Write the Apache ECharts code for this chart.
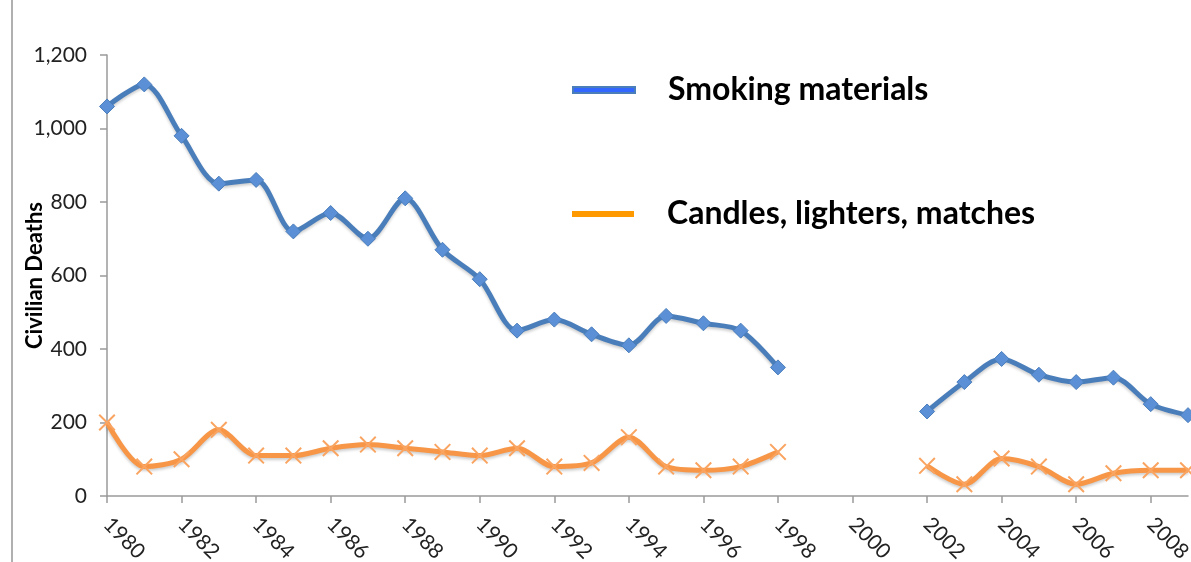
<!DOCTYPE html>
<html>
<head>
<meta charset="utf-8">
<script src="https://cdn.jsdelivr.net/npm/echarts@6/dist/echarts.min.js"></script>
<style>
html,body{margin:0;padding:0;background:#fff;}
#chart{width:1191px;height:562px;}
</style>
</head>
<body>
<div id="chart"></div>
<script>
const years = ['1980','1981','1982','1983','1984','1985','1986','1987','1988','1989',
  '1990','1991','1992','1993','1994','1995','1996','1997','1998','1999',
  '2000','2001','2002','2003','2004','2005','2006','2007','2008','2009'];
const smoking = [1060,1120,980,850,860,720,770,700,810,670,
  590,450,480,440,410,490,470,450,350,null,
  null,null,230,310,373,330,310,322,250,220];
const candles = [200,80,100,180,110,110,130,140,130,120,
  110,130,80,90,160,80,70,80,120,null,
  null,null,82,32,102,80,32,62,70,70];
const yTicks = [0,200,400,600,800,1000,1200];
const seriesNames = ['Smoking materials','Candles, lighters, matches'];

const font = 'Lato';
const chart = echarts.init(document.getElementById('chart'));
const xPath = 'path://M1,0 L6,5 L11,0 L12,1 L7,6 L12,11 L11,12 L6,7 L1,12 L0,11 L5,6 L0,1 Z';

chart.setOption({
  animation:false,
  backgroundColor:'#ffffff',
  graphic:[{
    type:'line', shape:{x1:12,y1:0,x2:12,y2:562},
    style:{stroke:'#b0b0b0', lineWidth:2}
  }],
  legend:[{
    left:567, top:69, icon:'rect', itemWidth:62, itemHeight:6,
    data:[{name:seriesNames[0], itemStyle:{color:'#3366ff'}}],
    textStyle:{fontFamily:font, fontWeight:'bold', fontSize:32, color:'#000', padding:[0,0,14,28]}
  },{
    left:567, top:193, icon:'rect', itemWidth:62, itemHeight:6,
    data:[{name:seriesNames[1], itemStyle:{color:'#ff9900'}}],
    textStyle:{fontFamily:font, fontWeight:'bold', fontSize:32, color:'#000', padding:[0,0,14,28]}
  }],
  grid:{left:107, right:3, top:55, bottom:66, containLabel:false, outerBoundsMode:'none'},
  xAxis:{
    type:'category', data:years, boundaryGap:false,
    axisLine:{lineStyle:{color:'#9a9a9a', width:1.5}},
    axisTick:{show:true, interval:1, length:7, lineStyle:{color:'#9a9a9a', width:1.5}},
    axisLabel:{interval:1, rotate:-45, margin:25, fontFamily:font, fontSize:21, color:'#222', hideOverlap:false},
    splitLine:{show:false}
  },
  yAxis:{
    type:'value', min:yTicks[0], max:yTicks[yTicks.length-1], interval:200,
    name:'Civilian Deaths', nameLocation:'middle', nameGap:61, nameRotate:90, nameMoveOverlap:false,
    nameTextStyle:{fontFamily:font, fontWeight:'bold', fontSize:22, color:'#000'},
    axisLine:{show:true, lineStyle:{color:'#9a9a9a', width:1.5}},
    axisTick:{show:true, length:7, lineStyle:{color:'#9a9a9a', width:1.5}},
    axisLabel:{margin:20, fontFamily:font, fontSize:21, color:'#222',
      formatter:v=>v.toLocaleString('en-US')},
    splitLine:{show:false}
  },
  series:[{
    name:seriesNames[0], type:'line', data:smoking, smooth:0.3,
    symbol:'diamond', symbolSize:15,
    itemStyle:{color:'#5b8fd6', borderColor:'#4a7ebb', borderWidth:1},
    lineStyle:{color:'#4a7ebb', width:5, shadowColor:'rgba(0,0,0,0.2)', shadowBlur:3, shadowOffsetY:2},
    z:3
  },{
    name:seriesNames[1], type:'line', data:candles, smooth:0.3,
    symbol:xPath, symbolSize:17,
    itemStyle:{color:'#f9a461'},
    lineStyle:{color:'#f79646', width:5, shadowColor:'rgba(0,0,0,0.2)', shadowBlur:3, shadowOffsetY:2},
    z:2
  }]
});
</script>
</body>
</html>
